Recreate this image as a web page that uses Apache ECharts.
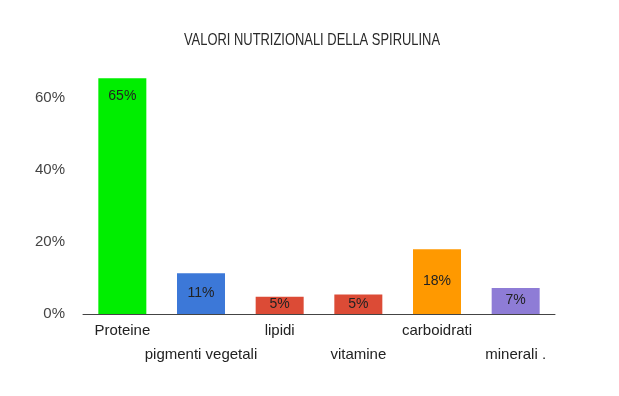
<!DOCTYPE html>
<html>
<head>
<meta charset="utf-8">
<script src="https://cdn.jsdelivr.net/npm/echarts@6/dist/echarts.min.js"></script>
<style>html,body{margin:0;padding:0;background:#fff}#c{width:619px;height:396px}</style>
</head>
<body>
<div id="c"></div>
<script>
const titleText = 'VALORI NUTRIZIONALI DELLA SPIRULINA';
const categories = ['Proteine', 'pigmenti vegetali', 'lipidi', 'vitamine', 'carboidrati', 'minerali .'];
const values = [65.5, 11.3, 4.8, 5.4, 18, 7.2];
const valueLabels = ['65%', '11%', '5%', '5%', '18%', '7%'];
const yTicks = [0, 20, 40, 60];

const barColors = ['#00ee00', '#3c78d8', '#dc4b36', '#dc4b36', '#ff9900', '#8e7cd6'];
const labelDist = [11, 13, 0, 3, 25, 5];
const font = 'Arial, "Liberation Sans", sans-serif';

const chart = echarts.init(document.getElementById('c'), null, {renderer: 'canvas'});
chart.setOption({
  backgroundColor: '#ffffff',
  animation: false,
  graphic: [{
    type: 'text', x: 312, y: 40, scaleX: 0.76, originX: 0, originY: 0,
    style: {
      text: titleText, align: 'center', verticalAlign: 'middle',
      font: 'normal 17px "Liberation Sans", Arial, sans-serif', fill: '#2a2a2a'
    }
  }],
  grid: {left: 83, right: 64, top: 62, bottom: 82, containLabel: false},
  xAxis: {
    type: 'category', data: categories,
    axisLine: {lineStyle: {color: '#444', width: 1}},
    axisTick: {show: false},
    axisLabel: {
      interval: 0, margin: 5, color: '#222', fontSize: 15,
      fontFamily: font, lineHeight: 24,
      formatter: (v, i) => (i % 2 ? '\n' + v : v)
    }
  },
  yAxis: {
    type: 'value', min: 0, max: 70, interval: 20,
    splitLine: {show: false},
    axisLine: {show: false}, axisTick: {show: false},
    axisLabel: {
      margin: 18, color: '#444', fontSize: 15, showMaxLabel: false,
      fontFamily: font,
      formatter: v => (yTicks.includes(v) ? v + '%' : '')
    }
  },
  series: [{
    type: 'bar', barWidth: 48,
    data: values.map((v, i) => ({
      value: v,
      itemStyle: {color: barColors[i]},
      label: {
        show: true, position: 'insideTop', distance: labelDist[i],
        formatter: () => valueLabels[i],
        color: '#222', fontSize: 14, fontFamily: font
      }
    }))
  }]
});
</script>
</body>
</html>
